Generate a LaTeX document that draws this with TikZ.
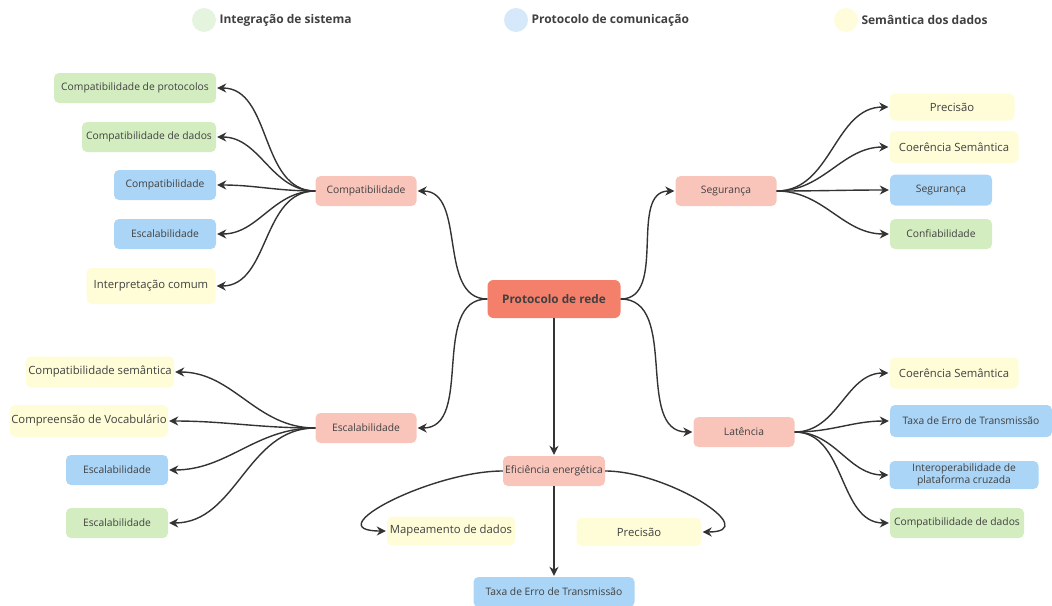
\documentclass[tikz,border=0pt]{standalone}
\usepackage{fontspec}
\setmainfont{Open Sans}
\usepackage{tikz}
\usetikzlibrary{arrows.meta}

\definecolor{rootred}{HTML}{F4806B}
\definecolor{topicpink}{HTML}{F9C5BB}
\definecolor{leafgreen}{HTML}{D3EDC0}
\definecolor{leafblue}{HTML}{AAD5F6}
\definecolor{leafyellow}{HTML}{FEFDD8}
\definecolor{keygreen}{HTML}{E5F4DE}
\definecolor{keyblue}{HTML}{D5E9FA}
\definecolor{keyyellow}{HTML}{FEFCDB}
\definecolor{txt}{HTML}{404040}
\definecolor{wire}{HTML}{333333}

\begin{document}
\begin{tikzpicture}[x=1pt,y=-1pt,
  box/.style={rounded corners=5pt, text=txt, font=\fontsize{10.3}{12}\selectfont,
    minimum height=30pt, inner xsep=1pt, inner ysep=1pt},
  root/.style={box, fill=rootred, font=\bfseries\fontsize{11.8}{14}\selectfont,
    minimum width=133pt, minimum height=38pt, rounded corners=6pt},
  topic/.style={box, fill=topicpink, minimum width=101pt},
  gleaf/.style={box, fill=leafgreen},
  bleaf/.style={box, fill=leafblue},
  yleaf/.style={box, fill=leafyellow, font=\fontsize{11.3}{13}\selectfont},
  key/.style={right, text=txt, font=\bfseries\fontsize{12}{14}\selectfont},
  link/.style={draw=wire, line width=1.4pt, -{Stealth[length=9pt,width=9pt]}, shorten >=1pt}]
\useasboundingbox (0,0) rectangle (1052,605);

% legend
\fill[keygreen] (204,20) circle (12pt);
\node[key] (kg) at (216,20) {Integração de sistema};
\fill[keyblue] (516,20) circle (12pt);
\node[key] (kb) at (528,20) {Protocolo de comunicação};
\fill[keyyellow] (846,20) circle (12pt);
\node[key] (ky) at (858,20) {Semântica dos dados};

% centre and topics
\node[root] (rede) at (554,299) {Protocolo de rede};
\node[topic] (comp) at (366,191) {Compatibilidade};
\node[topic] (segu) at (726,191) {Segurança};
\node[topic] (esca) at (366,428) {Escalabilidade};
\node[topic] (late) at (744,432) {Latência};
\node[topic, minimum width=102pt] (efic) at (554,471) {Eficiência energética};

% left, upper
\node[gleaf, minimum width=162pt] (c1) at (135,88) {Compatibilidade de protocolos};
\node[gleaf, minimum width=134pt] (c2) at (149,137) {Compatibilidade de dados};
\node[bleaf, minimum width=102pt] (c3) at (165,185) {Compatibilidade};
\node[bleaf, minimum width=102pt] (c4) at (165,234) {Escalabilidade};
\node[yleaf, minimum width=129pt, minimum height=36pt] (c5) at (151,286) {Interpretação comum};

% left, lower
\node[yleaf, minimum width=148pt, minimum height=31pt] (e1) at (100,372) {Compatibilidade semântica};
\node[yleaf, minimum width=158pt, minimum height=32pt] (e2) at (89,421) {Compreensão de Vocabulário};
\node[bleaf, minimum width=102pt] (e3) at (117,470) {Escalabilidade};
\node[gleaf, minimum width=102pt] (e4) at (117,523) {Escalabilidade};

% right, upper
\node[yleaf, minimum width=125pt, minimum height=27pt] (s1) at (952,107) {Precisão};
\node[yleaf, minimum width=129pt, minimum height=32pt] (s2) at (954,147) {Coerência Semântica};
\node[bleaf, minimum width=102pt, minimum height=31pt] (s3) at (941,190) {Segurança};
\node[gleaf, minimum width=102pt] (s4) at (941,234) {Confiabilidade};

% right, lower
\node[yleaf, minimum width=129pt, minimum height=31pt] (l1) at (954,373) {Coerência Semântica};
\node[bleaf, minimum width=162pt, minimum height=32pt] (l2) at (971,421) {Taxa de Erro de Transmissão};
\node[bleaf, minimum width=149pt, minimum height=28pt, align=center,
  font=\fontsize{10.3}{11.5}\selectfont] (l3) at (964,475) {Interoperabilidade de\\plataforma cruzada};
\node[gleaf, minimum width=134pt] (l4) at (957,523) {Compatibilidade de dados};

% bottom
\node[yleaf, minimum width=128pt, minimum height=29pt] (f1) at (451,531) {Mapeamento de dados};
\node[yleaf, minimum width=125pt, minimum height=28pt] (f2) at (639,532) {Precisão};
\node[bleaf, minimum width=161pt] (f3) at (554,592) {Taxa de Erro de Transmissão};

% connectors
\draw[link] (rede.west) to[out=180,in=0] (comp.east);
\draw[link] (rede.west) to[out=180,in=0] (esca.east);
\draw[link] (rede.east) to[out=0,in=180] (segu.west);
\draw[link] (rede.east) to[out=0,in=180] (late.west);
\draw[link] (rede.south) -- (efic.north);

\foreach \leaf in {c1,c2,c3,c4,c5}
  \draw[link] (comp.west) to[out=180,in=0] (\leaf.east);
\foreach \leaf in {e1,e2,e3,e4}
  \draw[link] (esca.west) to[out=180,in=0] (\leaf.east);
\foreach \leaf in {s1,s2,s3,s4}
  \draw[link] (segu.east) to[out=0,in=180] (\leaf.west);
\foreach \leaf in {l1,l2,l3,l4}
  \draw[link] (late.east) to[out=0,in=180] (\leaf.west);

\draw[link] (efic.west) to[out=180,in=180,looseness=1.4] (f1.west);
\draw[link] (efic.east) to[out=0,in=0,looseness=1.4] (f2.east);
\draw[link] (efic.south) -- (f3.north);

\end{tikzpicture}
\end{document}
